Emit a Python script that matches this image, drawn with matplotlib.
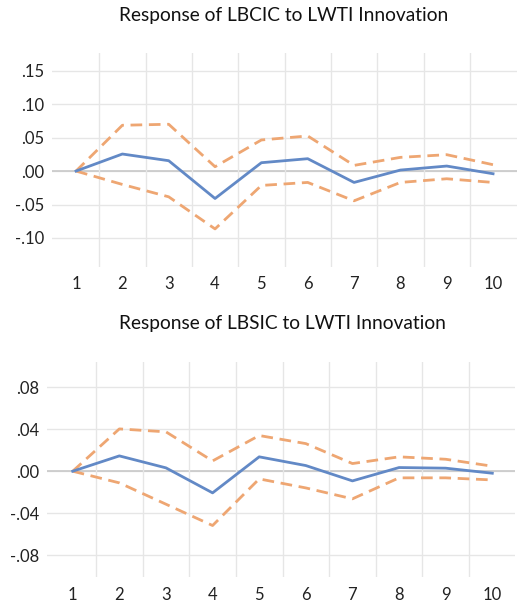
import numpy as np
import matplotlib
matplotlib.use("Agg")
import matplotlib.pyplot as plt

plt.rcParams['font.family'] = ['Lato', 'DejaVu Sans']

periods = np.arange(1, 11)

# Response of LBCIC to LWTI Innovation
bcic_resp = [0.0, 0.0255, 0.0155, -0.041, 0.0125, 0.0185, -0.017, 0.0015, 0.0075, -0.004]
bcic_upper = [0.0, 0.0685, 0.070, 0.0065, 0.0465, 0.0525, 0.0085, 0.0205, 0.0245, 0.0095]
bcic_lower = [0.0, -0.020, -0.0385, -0.0865, -0.0215, -0.017, -0.0445, -0.017, -0.0115, -0.017]

# Response of LBSIC to LWTI Innovation
bsic_resp = [0.0, 0.0146, 0.0032, -0.0206, 0.0137, 0.0054, -0.0092, 0.0035, 0.0029, -0.0019]
bsic_upper = [0.0, 0.0403, 0.0375, 0.0098, 0.034, 0.0263, 0.0073, 0.0137, 0.0114, 0.0048]
bsic_lower = [0.0, -0.0111, -0.0314, -0.0517, -0.0073, -0.0159, -0.0263, -0.0063, -0.0063, -0.0083]

top_ticks = [-0.10, -0.05, 0.00, 0.05, 0.10, 0.15]
top_labels = ["-.10", "-.05", ".00", ".05", ".10", ".15"]
bot_ticks = [-0.08, -0.04, 0.00, 0.04, 0.08]
bot_labels = ["-.08", "-.04", ".00", ".04", ".08"]

W, H = 518, 603
fig = plt.figure(figsize=(W / 100, H / 100), dpi=100)

blue = "#6289c6"
orange = "#eea672"


def panel(rect, xlim, ylim, resp, upper, lower, ticks, labels):
    l, t, r, b = rect
    ax = fig.add_axes([l / W, 1 - b / H, (r - l) / W, (b - t) / H])
    ax.set_xlim(*xlim)
    ax.set_ylim(*ylim)
    for s in ax.spines.values():
        s.set_visible(False)
    for v in ticks:
        ax.axhline(v, color="#e6e6e6", lw=1, zorder=0)
    ax.axhline(0, color="#c8c8c8", lw=1.2, zorder=0)
    for v in np.arange(1.5, 10, 1):
        ax.axvline(v, color="#e6e6e6", lw=1, zorder=0)
    ax.plot(periods, upper, color=orange, lw=2, dashes=(4.2, 2.4), zorder=2)
    ax.plot(periods, lower, color=orange, lw=2, dashes=(4.2, 2.4), zorder=2)
    ax.plot(periods, resp, color=blue, lw=2, zorder=3)
    ax.set_xticks(periods)
    ax.set_xticklabels([str(p) for p in periods])
    ax.set_yticks(ticks)
    ax.set_yticklabels(labels)
    ax.tick_params(length=0, labelsize=12, colors="#222222")
    ax.tick_params(axis="x", pad=7)
    ax.tick_params(axis="y", pad=5.5)
    return ax


panel((51.7, 52.7, 516.7, 266.7), (0.475, 10.51), (-0.143, 0.177),
      bcic_resp, bcic_upper, bcic_lower, top_ticks, top_labels)
panel((46.7, 362, 515, 577.3), (0.442, 10.487), (-0.101, 0.104),
      bsic_resp, bsic_upper, bsic_lower, bot_ticks, bot_labels)

fig.text(284 / W, 1 - 15 / H, "Response of LBCIC to LWTI Innovation",
         ha="center", va="center", fontsize=13.8, color="#111111")
fig.text(282 / W, 1 - 324 / H, "Response of LBSIC to LWTI Innovation",
         ha="center", va="center", fontsize=13.8, color="#111111")

fig.savefig("out.png", dpi=100, facecolor="white")
